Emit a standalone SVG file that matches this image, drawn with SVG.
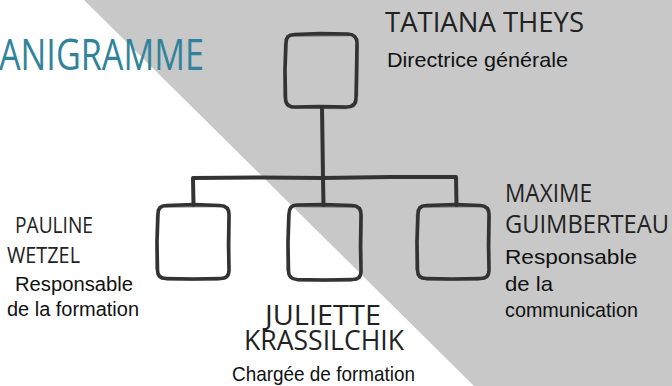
<svg xmlns="http://www.w3.org/2000/svg" width="672" height="386" viewBox="0 0 672 386">
<style>
.bg{fill:#ffffff}
.tri{fill:#c8c8c8}
.box{fill:none;stroke:#333333;stroke-width:3.6;stroke-linejoin:round;stroke-linecap:round}
.box2{fill:none;stroke:#333333;stroke-width:1.4;stroke-opacity:0.55;stroke-linecap:round}
.con{fill:none;stroke:#333333;stroke-width:4;stroke-linejoin:round;stroke-linecap:round}
.title{font-family:"Open Sans","DejaVu Sans",sans-serif;fill:#31839b}
.name{font-family:"Open Sans","DejaVu Sans",sans-serif;fill:#222222}
.role{font-family:"Liberation Sans",Arial,sans-serif;fill:#111111}
</style>
<rect class="bg" x="0" y="0" width="672" height="386"/>
<polygon class="tri" points="84,0 672,0 672,386 474,386"/>
<text class="title" x="-1" y="70" font-size="44" textLength="205" lengthAdjust="spacingAndGlyphs">ANIGRAMME</text>
<g id="connectors">
<path class="con" d="M322,107 L322.5,142 L323,178"/>
<path class="con" d="M193.5,205 L193,178 L260,177.5 L323,178 L390,177 L456,177 L456.5,205"/>
<path class="con" d="M323,178 L323.5,205"/>
</g>
<g id="node-tatiana">
<path class="box" d="M294,34.5 L320,33.5 L348,34 Q357,34.5 357,43 L356.5,75 L356,98 Q356,107 347,107 L320,106.5 L294,107 Q285.5,107 285.5,98 L285,70 L286,43 Q286,34.5 294,34.5 Z"/>
<path class="box2" d="M292,36 L349,35.5 M358,45 L357.5,96 M346,108.5 L295,108 M284,97 L284.5,44"/>
<text class="name" x="385" y="32" font-size="28" textLength="199" lengthAdjust="spacingAndGlyphs">TATIANA THEYS</text>
<text class="role" x="387" y="67" font-size="21" textLength="181" lengthAdjust="spacingAndGlyphs">Directrice générale</text>
</g>
<g id="node-pauline">
<path class="box" d="M166,205.5 L194,204.5 L220,205.5 Q229,206 229,214 L228.5,245 L229,270 Q229,279 220,278.5 L193,279 L166,278.5 Q157.5,278.5 157.5,270 L157,242 L158,214 Q158,205.5 166,205.5 Z"/>
<path class="box2" d="M165,207 L221,206.5 M230,216 L229.5,268 M219,280 L167,280 M156,269 L156.5,215"/>
<text class="name" x="15" y="233" font-size="21" textLength="78" lengthAdjust="spacingAndGlyphs">PAULINE</text>
<text class="name" x="7" y="263" font-size="21" textLength="73" lengthAdjust="spacingAndGlyphs">WETZEL</text>
<text class="role" x="15" y="291" font-size="20" textLength="118" lengthAdjust="spacingAndGlyphs">Responsable</text>
<text class="role" x="7" y="316" font-size="20" textLength="132" lengthAdjust="spacingAndGlyphs">de la formation</text>
</g>
<g id="node-juliette">
<path class="box" d="M297,205 L324,204.5 L352,205.5 Q361,206 361,214 L360.5,246 L361,271 Q361,280 352,279.5 L324,280 L297,279.5 Q288.5,279 288.5,271 L288,243 L289,214 Q289,205 297,205 Z"/>
<path class="box2" d="M296,206.5 L353,207 M362,216 L361.5,269 M351,281 L298,281 M287,270 L287.5,215"/>
<text class="name" x="265" y="325" font-size="27" textLength="116" lengthAdjust="spacingAndGlyphs">JULIETTE</text>
<text class="name" x="244" y="350" font-size="27" textLength="160" lengthAdjust="spacingAndGlyphs">KRASSILCHIK</text>
<text class="role" x="232" y="381" font-size="21" textLength="183" lengthAdjust="spacingAndGlyphs">Chargée de formation</text>
</g>
<g id="node-maxime">
<path class="box" d="M426,205.5 L456,204.5 L480,205.5 Q489,206 489,214 L488.5,245 L489,270 Q489,279 480,278.5 L452,279 L426,278.5 Q417.5,278.5 417.5,270 L417,242 L418,214 Q418,205.5 426,205.5 Z"/>
<path class="box2" d="M425,207 L481,206.5 M490,216 L489.5,268 M479,280 L427,280 M416,269 L416.5,215"/>
<text class="name" x="505" y="202" font-size="26" textLength="87" lengthAdjust="spacingAndGlyphs">MAXIME</text>
<text class="name" x="505" y="233" font-size="26" textLength="164" lengthAdjust="spacingAndGlyphs">GUIMBERTEAU</text>
<text class="role" x="505" y="264" font-size="21" textLength="132" lengthAdjust="spacingAndGlyphs">Responsable</text>
<text class="role" x="505" y="291" font-size="21" textLength="48" lengthAdjust="spacingAndGlyphs">de la</text>
<text class="role" x="505" y="317" font-size="21" textLength="133" lengthAdjust="spacingAndGlyphs">communication</text>
</g>
</svg>
